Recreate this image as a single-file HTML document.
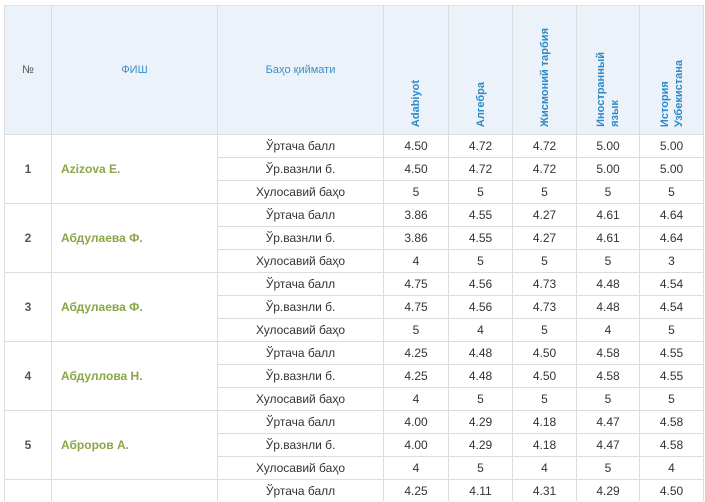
<!DOCTYPE html>
<html>
<head>
<meta charset="utf-8">
<style>
  html,body{margin:0;padding:0;background:#fff;}
  body{width:705px;height:501px;overflow:hidden;position:relative;font-family:"Liberation Sans",Arial,"Noto Sans CJK SC",sans-serif;}
  .hdr{position:absolute;left:4px;top:5px;width:699px;height:129px;background:#ecf2fa;}
  .h{position:absolute;height:1px;background:#dcdcdc;}
  .v{position:absolute;width:1px;top:5px;height:496px;background:#dcdcdc;}
  .c{position:absolute;height:22px;line-height:22px;text-align:center;font-size:12px;color:#333;white-space:nowrap;}
  .num{position:absolute;left:5px;width:46px;height:68px;line-height:68px;text-align:center;font-size:12px;color:#555;font-weight:bold;}
  .nm{position:absolute;left:61px;width:150px;height:68px;line-height:68px;font-size:12px;color:#8aa646;font-weight:bold;white-space:nowrap;}
  .ht{position:absolute;top:6px;height:128px;line-height:128px;text-align:center;font-size:11px;color:#3a8fc8;}
  .rh{position:absolute;top:6px;height:121px;display:flex;align-items:flex-end;justify-content:center;}
  .rh span{writing-mode:vertical-rl;transform:rotate(180deg);font-size:11px;font-weight:bold;color:#2b8ac8;line-height:14px;white-space:nowrap;}
</style>
</head>
<body>
<div class="hdr"></div>

<!-- horizontal lines -->
<div class="h" style="left:4px;top:5px;width:700px;background:#e2e2e2"></div>
<div class="h" style="left:4px;top:134px;width:700px"></div>
<div class="h" style="left:4px;top:203px;width:700px"></div>
<div class="h" style="left:4px;top:272px;width:700px"></div>
<div class="h" style="left:4px;top:341px;width:700px"></div>
<div class="h" style="left:4px;top:410px;width:700px"></div>
<div class="h" style="left:4px;top:479px;width:700px"></div>
<div class="h" style="left:217px;top:157px;width:487px"></div>
<div class="h" style="left:217px;top:180px;width:487px"></div>
<div class="h" style="left:217px;top:226px;width:487px"></div>
<div class="h" style="left:217px;top:249px;width:487px"></div>
<div class="h" style="left:217px;top:295px;width:487px"></div>
<div class="h" style="left:217px;top:318px;width:487px"></div>
<div class="h" style="left:217px;top:364px;width:487px"></div>
<div class="h" style="left:217px;top:387px;width:487px"></div>
<div class="h" style="left:217px;top:433px;width:487px"></div>
<div class="h" style="left:217px;top:456px;width:487px"></div>

<!-- vertical lines -->
<div class="v" style="left:4px"></div>
<div class="v" style="left:51px"></div>
<div class="v" style="left:217px"></div>
<div class="v" style="left:383px"></div>
<div class="v" style="left:448px"></div>
<div class="v" style="left:512px"></div>
<div class="v" style="left:576px"></div>
<div class="v" style="left:639px"></div>
<div class="v" style="left:703px"></div>

<!-- header -->
<div class="ht" style="left:5px;width:46px;color:#555">№</div>
<div class="ht" style="left:52px;width:165px">ФИШ</div>
<div class="ht" style="left:218px;width:165px">Баҳо қиймати</div>
<div class="rh" style="left:384px;width:64px"><span>Adabiyot</span></div>
<div class="rh" style="left:449px;width:63px"><span>Алгебра</span></div>
<div class="rh" style="left:513px;width:63px"><span>Жисмоний тарбия</span></div>
<div class="rh" style="left:577px;width:62px"><span>Иностранный<br>язык</span></div>
<div class="rh" style="left:640px;width:63px"><span>История<br>Узбекистана</span></div>

<!-- group labels -->
<div class="num" style="top:135px">1</div><div class="nm" style="top:135px">Azizova E.</div>
<div class="num" style="top:204px">2</div><div class="nm" style="top:204px">Абдулаева Ф.</div>
<div class="num" style="top:273px">3</div><div class="nm" style="top:273px">Абдулаева Ф.</div>
<div class="num" style="top:342px">4</div><div class="nm" style="top:342px">Абдуллова Н.</div>
<div class="num" style="top:411px">5</div><div class="nm" style="top:411px">Аброров А.</div>

<!-- row 0 -->
<div class="c" style="top:135px;left:218px;width:165px">Ўртача балл</div>
<div class="c" style="top:135px;left:384px;width:64px">4.50</div>
<div class="c" style="top:135px;left:449px;width:63px">4.72</div>
<div class="c" style="top:135px;left:513px;width:63px">4.72</div>
<div class="c" style="top:135px;left:577px;width:62px">5.00</div>
<div class="c" style="top:135px;left:640px;width:63px">5.00</div>
<!-- row 1 -->
<div class="c" style="top:158px;left:218px;width:165px">Ўр.вазнли б.</div>
<div class="c" style="top:158px;left:384px;width:64px">4.50</div>
<div class="c" style="top:158px;left:449px;width:63px">4.72</div>
<div class="c" style="top:158px;left:513px;width:63px">4.72</div>
<div class="c" style="top:158px;left:577px;width:62px">5.00</div>
<div class="c" style="top:158px;left:640px;width:63px">5.00</div>
<!-- row 2 -->
<div class="c" style="top:181px;left:218px;width:165px">Хулосавий баҳо</div>
<div class="c" style="top:181px;left:384px;width:64px">5</div>
<div class="c" style="top:181px;left:449px;width:63px">5</div>
<div class="c" style="top:181px;left:513px;width:63px">5</div>
<div class="c" style="top:181px;left:577px;width:62px">5</div>
<div class="c" style="top:181px;left:640px;width:63px">5</div>

<!-- row 3 -->
<div class="c" style="top:204px;left:218px;width:165px">Ўртача балл</div>
<div class="c" style="top:204px;left:384px;width:64px">3.86</div>
<div class="c" style="top:204px;left:449px;width:63px">4.55</div>
<div class="c" style="top:204px;left:513px;width:63px">4.27</div>
<div class="c" style="top:204px;left:577px;width:62px">4.61</div>
<div class="c" style="top:204px;left:640px;width:63px">4.64</div>
<!-- row 4 -->
<div class="c" style="top:227px;left:218px;width:165px">Ўр.вазнли б.</div>
<div class="c" style="top:227px;left:384px;width:64px">3.86</div>
<div class="c" style="top:227px;left:449px;width:63px">4.55</div>
<div class="c" style="top:227px;left:513px;width:63px">4.27</div>
<div class="c" style="top:227px;left:577px;width:62px">4.61</div>
<div class="c" style="top:227px;left:640px;width:63px">4.64</div>
<!-- row 5 -->
<div class="c" style="top:250px;left:218px;width:165px">Хулосавий баҳо</div>
<div class="c" style="top:250px;left:384px;width:64px">4</div>
<div class="c" style="top:250px;left:449px;width:63px">5</div>
<div class="c" style="top:250px;left:513px;width:63px">5</div>
<div class="c" style="top:250px;left:577px;width:62px">5</div>
<div class="c" style="top:250px;left:640px;width:63px">3</div>

<!-- row 6 -->
<div class="c" style="top:273px;left:218px;width:165px">Ўртача балл</div>
<div class="c" style="top:273px;left:384px;width:64px">4.75</div>
<div class="c" style="top:273px;left:449px;width:63px">4.56</div>
<div class="c" style="top:273px;left:513px;width:63px">4.73</div>
<div class="c" style="top:273px;left:577px;width:62px">4.48</div>
<div class="c" style="top:273px;left:640px;width:63px">4.54</div>
<!-- row 7 -->
<div class="c" style="top:296px;left:218px;width:165px">Ўр.вазнли б.</div>
<div class="c" style="top:296px;left:384px;width:64px">4.75</div>
<div class="c" style="top:296px;left:449px;width:63px">4.56</div>
<div class="c" style="top:296px;left:513px;width:63px">4.73</div>
<div class="c" style="top:296px;left:577px;width:62px">4.48</div>
<div class="c" style="top:296px;left:640px;width:63px">4.54</div>
<!-- row 8 -->
<div class="c" style="top:319px;left:218px;width:165px">Хулосавий баҳо</div>
<div class="c" style="top:319px;left:384px;width:64px">5</div>
<div class="c" style="top:319px;left:449px;width:63px">4</div>
<div class="c" style="top:319px;left:513px;width:63px">5</div>
<div class="c" style="top:319px;left:577px;width:62px">4</div>
<div class="c" style="top:319px;left:640px;width:63px">5</div>

<!-- row 9 -->
<div class="c" style="top:342px;left:218px;width:165px">Ўртача балл</div>
<div class="c" style="top:342px;left:384px;width:64px">4.25</div>
<div class="c" style="top:342px;left:449px;width:63px">4.48</div>
<div class="c" style="top:342px;left:513px;width:63px">4.50</div>
<div class="c" style="top:342px;left:577px;width:62px">4.58</div>
<div class="c" style="top:342px;left:640px;width:63px">4.55</div>
<!-- row 10 -->
<div class="c" style="top:365px;left:218px;width:165px">Ўр.вазнли б.</div>
<div class="c" style="top:365px;left:384px;width:64px">4.25</div>
<div class="c" style="top:365px;left:449px;width:63px">4.48</div>
<div class="c" style="top:365px;left:513px;width:63px">4.50</div>
<div class="c" style="top:365px;left:577px;width:62px">4.58</div>
<div class="c" style="top:365px;left:640px;width:63px">4.55</div>
<!-- row 11 -->
<div class="c" style="top:388px;left:218px;width:165px">Хулосавий баҳо</div>
<div class="c" style="top:388px;left:384px;width:64px">4</div>
<div class="c" style="top:388px;left:449px;width:63px">5</div>
<div class="c" style="top:388px;left:513px;width:63px">5</div>
<div class="c" style="top:388px;left:577px;width:62px">5</div>
<div class="c" style="top:388px;left:640px;width:63px">5</div>

<!-- row 12 -->
<div class="c" style="top:411px;left:218px;width:165px">Ўртача балл</div>
<div class="c" style="top:411px;left:384px;width:64px">4.00</div>
<div class="c" style="top:411px;left:449px;width:63px">4.29</div>
<div class="c" style="top:411px;left:513px;width:63px">4.18</div>
<div class="c" style="top:411px;left:577px;width:62px">4.47</div>
<div class="c" style="top:411px;left:640px;width:63px">4.58</div>
<!-- row 13 -->
<div class="c" style="top:434px;left:218px;width:165px">Ўр.вазнли б.</div>
<div class="c" style="top:434px;left:384px;width:64px">4.00</div>
<div class="c" style="top:434px;left:449px;width:63px">4.29</div>
<div class="c" style="top:434px;left:513px;width:63px">4.18</div>
<div class="c" style="top:434px;left:577px;width:62px">4.47</div>
<div class="c" style="top:434px;left:640px;width:63px">4.58</div>
<!-- row 14 -->
<div class="c" style="top:457px;left:218px;width:165px">Хулосавий баҳо</div>
<div class="c" style="top:457px;left:384px;width:64px">4</div>
<div class="c" style="top:457px;left:449px;width:63px">5</div>
<div class="c" style="top:457px;left:513px;width:63px">4</div>
<div class="c" style="top:457px;left:577px;width:62px">5</div>
<div class="c" style="top:457px;left:640px;width:63px">4</div>

<!-- row 15 (partial) -->
<div class="c" style="top:480px;left:218px;width:165px">Ўртача балл</div>
<div class="c" style="top:480px;left:384px;width:64px">4.25</div>
<div class="c" style="top:480px;left:449px;width:63px">4.11</div>
<div class="c" style="top:480px;left:513px;width:63px">4.31</div>
<div class="c" style="top:480px;left:577px;width:62px">4.29</div>
<div class="c" style="top:480px;left:640px;width:63px">4.50</div>
</body>
</html>
